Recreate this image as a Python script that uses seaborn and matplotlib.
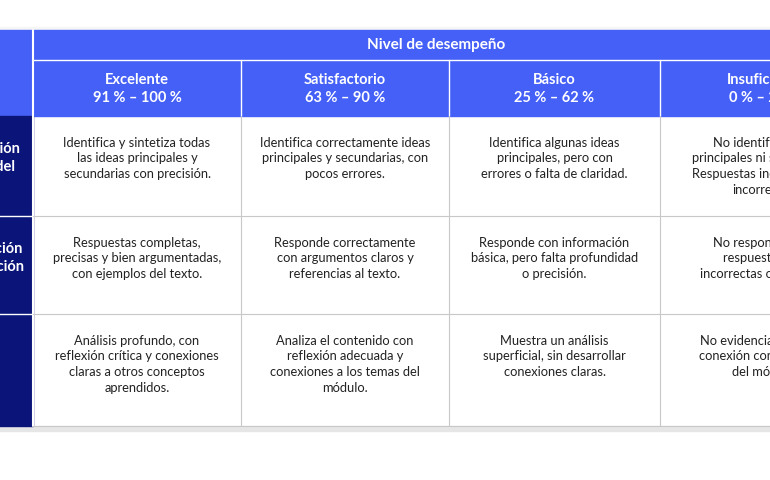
import matplotlib.pyplot as plt
import matplotlib.patches as mpatches
import seaborn as sns

sns.set_theme(style="white")
plt.rcParams['font.family'] = ['Lato', 'DejaVu Sans']

# table content
group_title = "Nivel de desempeño"
levels = ["Excelente", "Satisfactorio", "Básico", "Insuficiente"]
ranges = ["91 % – 100 %", "63 % – 90 %", "25 % – 62 %", "0 % – 24 %"]
criteria = ["Identificación\nde ideas del\ntexto", "Argumentación\nen la evaluación", "Reflexión\ncrítica"]
cells = [
    ["Identifica y sintetiza todas\nlas ideas principales y\nsecundarias con precisión.",
     "Identifica correctamente ideas\nprincipales y secundarias, con\npocos errores.",
     "Identifica algunas ideas\nprincipales, pero con\nerrores o falta de claridad.",
     "No identifica ideas\nprincipales ni secundarias.\nRespuestas incompletas o\nincorrectas."],
    ["Respuestas completas,\nprecisas y bien argumentadas,\ncon ejemplos del texto.",
     "Responde correctamente\ncon argumentos claros y\nreferencias al texto.",
     "Responde con información\nbásica, pero falta profundidad\no precisión.",
     "No responde o sus\nrespuestas son\nincorrectas o confusas."],
    ["Análisis profundo, con\nreflexión crítica y conexiones\nclaras a otros conceptos\naprendidos.",
     "Analiza el contenido con\nreflexión adecuada y\nconexiones a los temas del\nmódulo.",
     "Muestra un análisis\nsuperficial, sin desarrollar\nconexiones claras.",
     "No evidencia análisis ni\nconexión con los temas\ndel módulo."],
]

# layout (pixel coords)
col_edges = [-140, 33, 241, 449, 660, 870]
row_edges = [30, 60, 116, 216, 314, 426]
label_x = [-24, -28, -60]
blue = "#4560F7"
navy = "#0B1478"
grid = "#C8C8C8"

fig = plt.figure(figsize=(7.7, 4.8), dpi=100)
ax = fig.add_axes([0, 0, 1, 1])
ax.set_xlim(0, 770)
ax.set_ylim(480, 0)
ax.axis("off")

# shadow
ax.add_patch(mpatches.Rectangle((-140, 426), 1100, 5, color="#E6E6E6", zorder=0))
ax.add_patch(mpatches.Rectangle((-140, 27), 1100, 3, color="#F6F6F6", zorder=0))

# header
ax.add_patch(mpatches.Rectangle((col_edges[0], row_edges[0]), col_edges[-1] - col_edges[0],
                                row_edges[2] - row_edges[0], color=blue, zorder=1))
ax.add_patch(mpatches.Rectangle((col_edges[0], row_edges[2]), col_edges[1] - col_edges[0],
                                row_edges[-1] - row_edges[2], color=navy, zorder=1))
ax.text((col_edges[1] + col_edges[-1]) / 2 - 15, 45, group_title, color="white",
        fontsize=11, fontweight="bold", ha="center", va="center")
ax.plot([col_edges[1], col_edges[-1]], [60, 60], color="white", lw=1)
ax.plot([col_edges[1], col_edges[1]], [30, 116], color="white", lw=1.5)
ax.plot([col_edges[1], col_edges[1]], [116, 426], color="white", lw=1.5)
for i, (lv, rg) in enumerate(zip(levels, ranges)):
    x0, x1 = col_edges[i + 1], col_edges[i + 2]
    if i > 0:
        ax.plot([x0, x0], [60, 116], color="white", lw=1)
        ax.plot([x0, x0], [116, 426], color=grid, lw=0.8)
    ax.text((x0 + x1) / 2, 89, lv + "\n" + rg, color="white", fontsize=10.5,
            fontweight="bold", ha="center", va="center", linespacing=1.3)

for r in range(3):
    y0, y1 = row_edges[r + 2], row_edges[r + 3]
    if r > 0:
        ax.plot([col_edges[0], col_edges[1]], [y0, y0], color="white", lw=1)
        ax.plot([col_edges[1], col_edges[-1]], [y0, y0], color=grid, lw=0.8)
    ax.text(label_x[r], y0 + 26, criteria[r], color="white", fontsize=10.5,
            fontweight="bold", ha="center", va="top", linespacing=1.35)
    for c in range(4):
        x0, x1 = col_edges[c + 1], col_edges[c + 2]
        ax.text((x0 + x1) / 2, y0 + 21, cells[r][c], color="#222222", fontsize=9.3,
                ha="center", va="top", linespacing=1.35)
ax.plot([col_edges[1], col_edges[-1]], [426, 426], color=grid, lw=0.8)

fig.savefig("out.png", dpi=100)
